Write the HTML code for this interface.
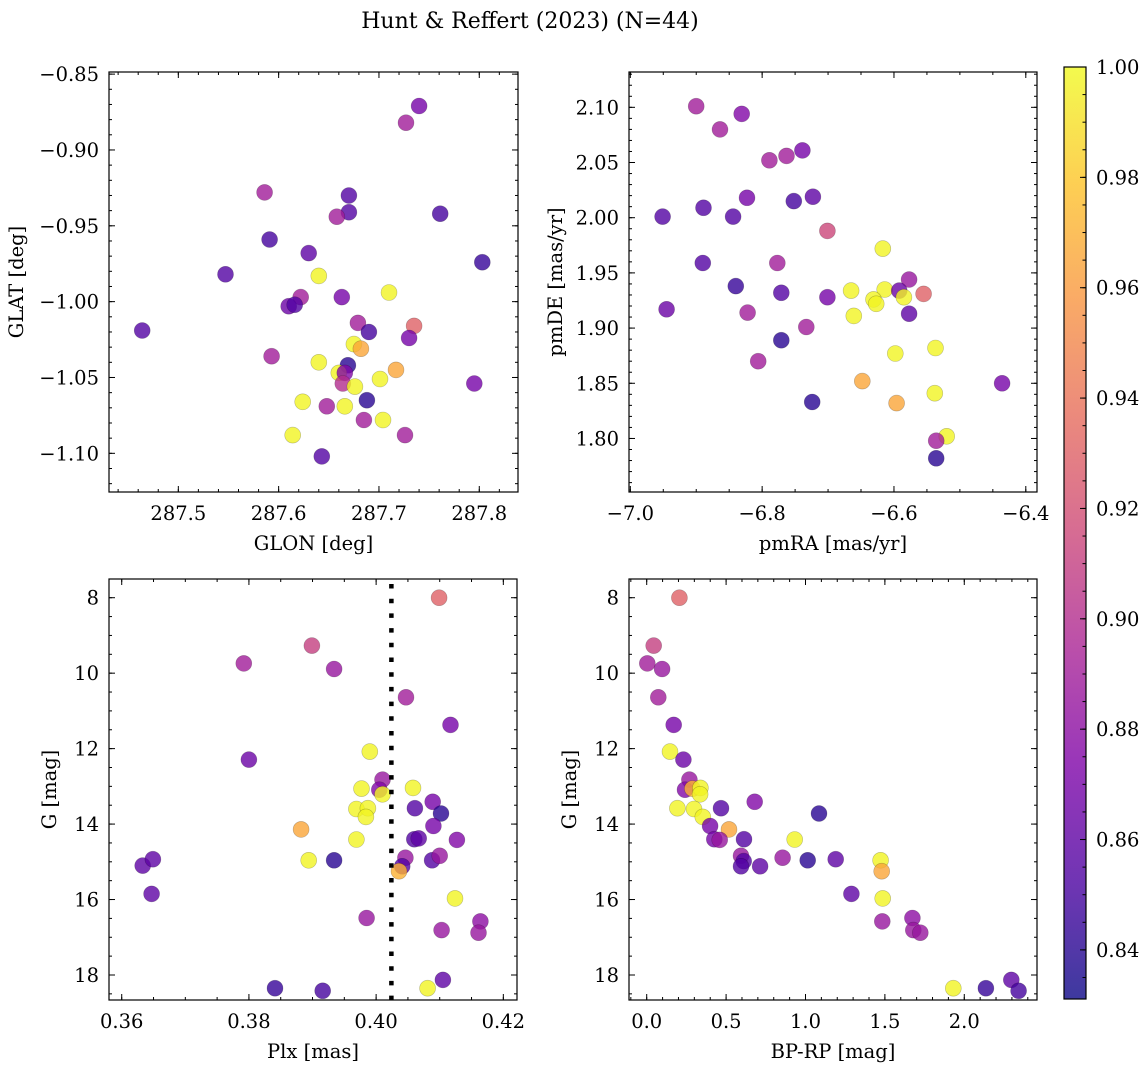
<!DOCTYPE html>
<html><head><meta charset="utf-8"><title>Hunt & Reffert (2023)</title>
<style>
html,body{margin:0;padding:0;background:#fff;}
svg{display:block;font-family:"DejaVu Serif","Liberation Serif",serif;}
</style></head>
<body>
<svg id="fig" width="1148" height="1067" viewBox="0 0 1148 1067" xmlns="http://www.w3.org/2000/svg">
<text x="530" y="28" font-size="22" text-anchor="middle">Hunt &amp; Reffert (2023) (N=44)</text>
</svg>
<script>
// Panel 1: GLON vs GLAT
const glon = [287.740,287.727,287.586,287.670,287.670,287.658,287.761,287.591,287.630,287.803,287.547,287.640,287.710,287.622,287.663,287.610,287.616,287.464,287.679,287.690,287.735,287.730,287.675,287.682,287.593,287.640,287.669,287.660,287.666,287.717,287.701,287.664,287.676,287.795,287.624,287.648,287.666,287.688,287.685,287.704,287.614,287.726,287.643];
const glat = [-0.871,-0.882,-0.928,-0.930,-0.941,-0.944,-0.942,-0.959,-0.968,-0.974,-0.982,-0.983,-0.994,-0.997,-0.997,-1.003,-1.002,-1.019,-1.014,-1.020,-1.016,-1.024,-1.028,-1.031,-1.036,-1.040,-1.042,-1.047,-1.047,-1.045,-1.051,-1.054,-1.056,-1.054,-1.066,-1.069,-1.069,-1.065,-1.078,-1.078,-1.088,-1.088,-1.102];
const prob1 = [0.87,0.89,0.89,0.855,0.855,0.89,0.85,0.85,0.86,0.845,0.855,0.998,0.998,0.89,0.87,0.865,0.855,0.855,0.89,0.85,0.93,0.87,0.998,0.965,0.89,0.998,0.84,0.998,0.875,0.965,0.998,0.9,0.998,0.87,0.998,0.89,0.998,0.84,0.89,0.998,0.998,0.89,0.855];
// Panel 2: pmRA vs pmDE
const pmra = [-6.900,-6.831,-6.864,-6.789,-6.763,-6.739,-6.951,-6.889,-6.844,-6.823,-6.752,-6.723,-6.701,-6.617,-6.890,-6.777,-6.577,-6.840,-6.771,-6.665,-6.614,-6.592,-6.555,-6.701,-6.585,-6.631,-6.627,-6.945,-6.822,-6.577,-6.661,-6.733,-6.771,-6.598,-6.537,-6.806,-6.648,-6.436,-6.724,-6.596,-6.538,-6.520,-6.536,-6.536];
const pmde = [2.101,2.094,2.080,2.052,2.056,2.061,2.001,2.009,2.001,2.018,2.015,2.019,1.988,1.972,1.959,1.959,1.944,1.938,1.932,1.934,1.935,1.934,1.931,1.928,1.928,1.926,1.922,1.917,1.914,1.913,1.911,1.901,1.889,1.877,1.882,1.870,1.852,1.850,1.833,1.832,1.841,1.802,1.798,1.782];
const prob2 = [0.89,0.875,0.89,0.89,0.89,0.87,0.855,0.855,0.855,0.87,0.85,0.86,0.915,0.998,0.855,0.89,0.885,0.845,0.855,0.998,0.998,0.865,0.93,0.87,0.998,0.998,0.998,0.865,0.89,0.86,0.998,0.89,0.84,0.998,0.998,0.89,0.965,0.87,0.84,0.965,0.998,0.998,0.89,0.84];
// Panels 3 & 4
const plx = [0.4099,0.3899,0.3792,0.3934,0.4047,0.4117,0.3990,0.3800,0.4010,0.4005,0.4010,0.3977,0.4058,0.4089,0.4061,0.4102,0.3969,0.3987,0.3984,0.3882,0.4090,0.3969,0.4060,0.4067,0.4127,0.3894,0.3934,0.4046,0.4088,0.4100,0.4041,0.4036,0.3633,0.3649,0.3647,0.4124,0.3985,0.4164,0.4103,0.4161,0.4105,0.3841,0.3916,0.4081];
const gmag3 = [8.0,9.27,9.74,9.89,10.64,11.37,12.08,12.29,12.82,13.09,13.21,13.06,13.04,13.41,13.58,13.72,13.60,13.58,13.81,14.14,14.05,14.41,14.40,14.38,14.42,14.96,14.96,14.89,14.96,14.84,15.12,15.25,15.10,14.93,15.85,15.97,16.49,16.58,16.81,16.88,18.13,18.35,18.42,18.35];
const prob3 = [0.93,0.91,0.89,0.885,0.89,0.87,0.998,0.865,0.885,0.875,0.998,0.998,0.998,0.87,0.855,0.84,0.998,0.998,0.998,0.965,0.87,0.998,0.855,0.86,0.875,0.998,0.84,0.885,0.855,0.885,0.855,0.97,0.86,0.86,0.86,0.998,0.885,0.88,0.885,0.885,0.86,0.845,0.85,0.998];
const bprp = [0.206,0.044,0.004,0.097,0.073,0.170,0.147,0.231,0.269,0.241,0.288,0.338,0.336,0.680,0.468,1.085,0.193,0.298,0.353,0.518,0.399,0.932,0.613,0.426,0.460,1.473,1.014,0.856,1.190,0.594,0.611,1.480,0.594,0.714,1.289,1.486,1.484,1.673,1.679,1.723,2.296,2.136,2.342,1.931];
const gmag4 = [8.0,9.27,9.74,9.89,10.64,11.37,12.08,12.29,12.82,13.09,13.06,13.04,13.21,13.41,13.58,13.72,13.58,13.60,13.81,14.14,14.05,14.41,14.40,14.40,14.42,14.96,14.96,14.89,14.93,14.84,14.98,15.25,15.12,15.12,15.85,15.97,16.58,16.49,16.81,16.88,18.13,18.35,18.42,18.35];
const prob4 = [0.93,0.91,0.89,0.885,0.89,0.87,0.998,0.865,0.885,0.875,0.97,0.998,0.998,0.875,0.855,0.84,0.998,0.998,0.998,0.965,0.87,0.998,0.855,0.87,0.885,0.998,0.84,0.885,0.86,0.885,0.855,0.965,0.855,0.86,0.86,0.998,0.885,0.88,0.885,0.885,0.86,0.845,0.85,0.998];
const plxLine = [0.4024];
const cbTicks = [0.84,0.86,0.88,0.90,0.92,0.94,0.96,0.98,1.00];

const NS = "http://www.w3.org/2000/svg";
const svg = document.getElementById('fig');
const VMIN = 0.8311, VMAX = 1.0;
const TFS = 19.5;
const stops = [[0,13,8,135],[0.125,76,2,161],[0.25,126,3,168],[0.375,169,35,149],[0.5,204,71,120],[0.625,230,108,92],[0.75,248,149,64],[0.875,253,195,40],[1,240,249,33]];
function plasma(t){
  t=Math.max(0,Math.min(1,t));
  for(let i=1;i<stops.length;i++){
    if(t<=stops[i][0]){const a=stops[i-1],b=stops[i];const f=(t-a[0])/(b[0]-a[0]);
      return 'rgb('+[1,2,3].map(k=>Math.round(a[k]+(b[k]-a[k])*f)).join(',')+')';}
  }
  return 'rgb(240,249,33)';
}
function el(tag, attrs, parent){const e=document.createElementNS(NS,tag);for(const k in attrs)e.setAttribute(k,attrs[k]);(parent||svg).appendChild(e);return e;}
function fmt(v,d){const s=Math.abs(v).toFixed(d);return (v<-1e-9?'\u2212':'')+s;}

function panel(cfg){
  const g=el('g',{});
  
  
  const sx=v=>cfg.L+(v-cfg.x0)/(cfg.x1-cfg.x0)*(cfg.R-cfg.L);
  const sy=cfg.invert ? (v=>cfg.T+(v-cfg.y0)/(cfg.y1-cfg.y0)*(cfg.B-cfg.T)) : (v=>cfg.B-(v-cfg.y0)/(cfg.y1-cfg.y0)*(cfg.B-cfg.T));
  const pg=el('g',{},g);
  
  
  for(let i=0;i<cfg.xs.length;i++){
    const c=el('circle',{cx:sx(cfg.xs[i]).toFixed(1),cy:sy(cfg.ys[i]).toFixed(1),r:8,fill:plasma((cfg.ps[i]-VMIN)/(VMAX-VMIN)),'fill-opacity':0.8,stroke:'rgba(0,0,0,0.25)','stroke-width':0.6},pg);
    
    
  }
  if(cfg.vline){
    for(const v of cfg.vline){
      const ln=el('line',{x1:sx(v),x2:sx(v),y1:cfg.T+5,y2:cfg.B,stroke:'#000','stroke-width':4.5,'stroke-dasharray':'4.5 10.2'},g);
      
      
    }
  }
  const tk=el('g',{stroke:'#000','stroke-width':1},g);
  const lab=el('g',{'font-size':TFS,fill:'#000'},g);
  function ticks(a0,a1,step,len,isX,labels,dec){
    const n0=Math.ceil((a0)/step-1e-6), n1=Math.floor((a1)/step+1e-6);
    for(let n=n0;n<=n1;n++){
      const v=n*step;
      if(isX){const x=sx(v);
        el('line',{x1:x,x2:x,y1:cfg.B,y2:cfg.B-len},tk);el('line',{x1:x,x2:x,y1:cfg.T,y2:cfg.T+len},tk);
        if(labels){const t=el('text',{x:x,y:cfg.B+28,'text-anchor':'middle'},lab);t.textContent=fmt(v,dec);
          
          }
      } else {const y=sy(v);
        el('line',{x1:cfg.L,x2:cfg.L+len,y1:y,y2:y},tk);el('line',{x1:cfg.R,x2:cfg.R-len,y1:y,y2:y},tk);
        if(labels){const t=el('text',{x:cfg.L-10,y:y+7,'text-anchor':'end'},lab);t.textContent=fmt(v,dec);
          
          }
      }
    }
  }
  ticks(cfg.x0,cfg.x1,cfg.xmaj,6,true,true,cfg.xdec);
  ticks(cfg.x0,cfg.x1,cfg.xmin,3,true,false);
  ticks(Math.min(cfg.y0,cfg.y1),Math.max(cfg.y0,cfg.y1),cfg.ymaj,6,false,true,cfg.ydec);
  ticks(Math.min(cfg.y0,cfg.y1),Math.max(cfg.y0,cfg.y1),cfg.ymin,3,false,false);
  const fr=el('rect',{x:cfg.L,y:cfg.T,width:cfg.R-cfg.L,height:cfg.B-cfg.T,fill:'none',stroke:'#000','stroke-width':1.2},g);
  
  
  const xl=el('text',{x:(cfg.L+cfg.R)/2,y:cfg.B+58,'text-anchor':'middle','font-size':TFS},g);
  xl.textContent=cfg.xlabel;
  
  
  const yx=cfg.ylx, yc=(cfg.T+cfg.B)/2;
  const yl=el('text',{x:yx,y:yc,'text-anchor':'middle','font-size':TFS,transform:'rotate(-90 '+yx+' '+yc+')'},g);
  yl.textContent=cfg.ylabel;
  
  
}

panel({name:'glon-glat-panel',L:109,R:518,T:72,B:492,x0:287.4309,x1:287.8386,y0:-1.1255,y1:-0.8486,
  xmaj:0.1,xmin:0.02,ymaj:0.05,ymin:0.01,xdec:1,ydec:2,xs:glon,ys:glat,ps:prob1,xlabel:'GLON [deg]',ylabel:'GLAT [deg]',ylx:23});
panel({name:'proper-motion-panel',L:629,R:1037,T:72,B:492,x0:-7.002,x1:-6.383,y0:1.7515,y1:2.132,
  xmaj:0.2,xmin:0.05,ymaj:0.05,ymin:0.01,xdec:1,ydec:2,xs:pmra,ys:pmde,ps:prob2,xlabel:'pmRA [mas/yr]',ylabel:'pmDE [mas/yr]',ylx:562});
panel({name:'parallax-mag-panel',L:109,R:517,T:579,B:1000,x0:0.358,x1:0.42215,y0:7.504,y1:18.663,invert:true,
  xmaj:0.02,xmin:0.005,ymaj:2,ymin:0.5,xdec:2,ydec:0,xs:plx,ys:gmag3,ps:prob3,xlabel:'Plx [mas]',ylabel:'G [mag]',ylx:56,vline:plxLine});
panel({name:'cmd-panel',L:629,R:1037,T:579,B:1000,x0:-0.1115,x1:2.458,y0:7.504,y1:18.663,invert:true,
  xmaj:0.5,xmin:0.1,ymaj:2,ymin:0.5,xdec:1,ydec:0,xs:bprp,ys:gmag4,ps:prob4,xlabel:'BP-RP [mag]',ylabel:'G [mag]',ylx:576});

// Colorbar
const CL=1064,CR=1086,CT=67,CB=999;
const defs=el('defs',{});
const lg=el('linearGradient',{id:'cbg',x1:0,y1:1,x2:0,y2:0},defs);
for(const s of stops){el('stop',{offset:s[0],'stop-color':'rgb('+s[1]+','+s[2]+','+s[3]+')'},lg);}
const cbg=el('g',{});


el('rect',{x:CL,y:CT,width:CR-CL,height:CB-CT,fill:'url(#cbg)','fill-opacity':0.8},cbg);
const cy=v=>CB-(v-VMIN)/(VMAX-VMIN)*(CB-CT);
for(let n=Math.ceil(VMIN/0.005);n<=Math.floor(VMAX/0.005+1e-6);n++){
  const v=n*0.005; el('line',{x1:CR,x2:CR-3.5,y1:cy(v),y2:cy(v),stroke:'#000','stroke-width':1},cbg);
}
for(const v of cbTicks){
  el('line',{x1:CR,x2:CR-6,y1:cy(v),y2:cy(v),stroke:'#000','stroke-width':1},cbg);
  const t=el('text',{x:CR+10,y:cy(v)+7,'font-size':TFS},cbg);
  t.textContent=v.toFixed(2);
  
  
}
el('rect',{x:CL,y:CT,width:CR-CL,height:CB-CT,fill:'none',stroke:'#000','stroke-width':1.2},cbg);
</script>
</body></html>
